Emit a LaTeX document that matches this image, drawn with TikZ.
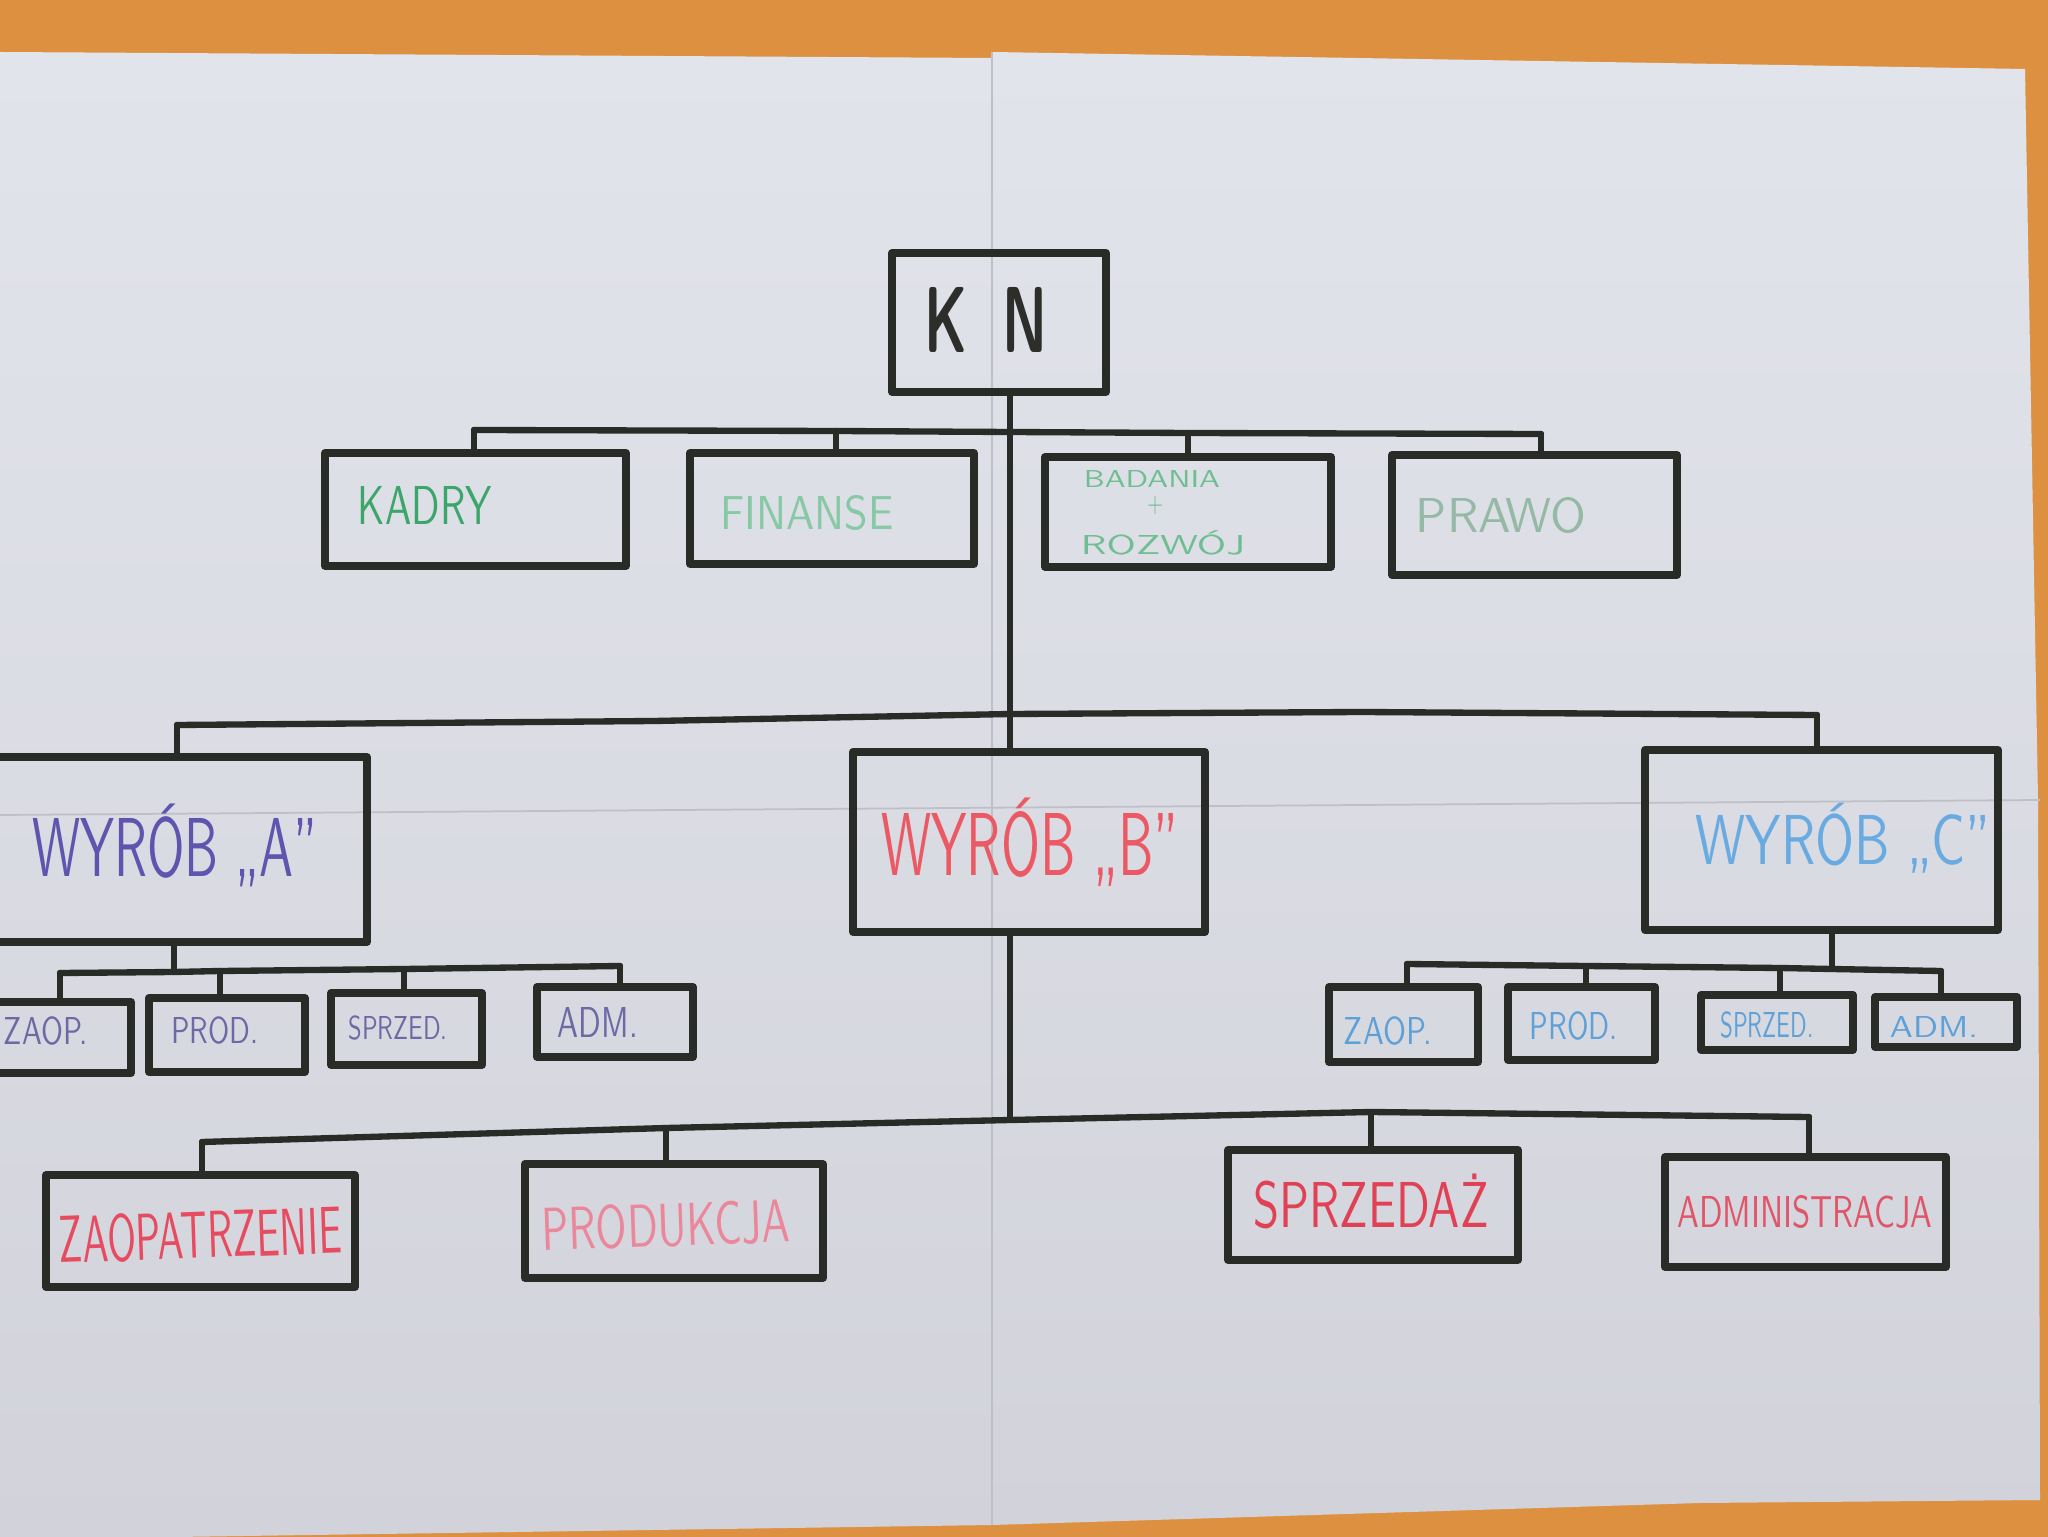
\documentclass[tikz,border=0pt]{standalone}
\usepackage{fontspec}
\usepackage{graphicx}
\usetikzlibrary{fit}
\definecolor{wood}{RGB}{221,145,64}
\definecolor{paperT}{RGB}{226,228,236}
\definecolor{paperB}{RGB}{210,211,218}
\definecolor{ink}{RGB}{40,43,38}
\definecolor{crease}{RGB}{190,192,200}
\definecolor{knC}{RGB}{45,45,42}
\definecolor{kadryC}{RGB}{60,165,105}
\definecolor{finC}{RGB}{135,200,165}
\definecolor{badC}{RGB}{110,190,145}
\definecolor{prawoC}{RGB}{150,185,165}
\definecolor{aC}{RGB}{95,85,175}
\definecolor{bC}{RGB}{235,90,100}
\definecolor{cC}{RGB}{105,170,225}
\definecolor{asC}{RGB}{110,105,165}
\definecolor{csC}{RGB}{95,160,215}
\definecolor{zaoC}{RGB}{230,75,95}
\definecolor{prodC}{RGB}{235,135,155}
\definecolor{sprzC}{RGB}{225,65,85}
\definecolor{admC}{RGB}{225,85,105}
\newcommand\hw[3]{\resizebox{#1}{#2}{\vphantom{X}\smash{#3}}}
\begin{document}
\begin{tikzpicture}[
  x=0.01cm, y=-0.01cm,
  boxst/.style={draw=ink, line width=2.2pt, line join=round, inner sep=0pt, outer sep=0pt},
  conn/.style={draw=ink, line width=1.8pt, line cap=round, line join=round},
  lbl/.style={inner sep=0pt, outer sep=0pt, font=\sffamily},
  creaseline/.style={draw=crease, line width=0.5pt}
]
\useasboundingbox (0,0) rectangle (2048,1537);
\clip (0,0) rectangle (2048,1537);
% background: table and two paper sheets
\fill[wood] (0,0) rectangle (2048,1537);
\shade[top color=paperT, bottom color=paperB] (0,52) -- (992,58) -- (992,1525) -- (175,1537) -- (0,1537) -- cycle;
\shade[top color=paperT, bottom color=paperB] (992,52) -- (2025,69) -- (2038,800) -- (2040,1500) -- (1700,1503) -- (992,1525) -- cycle;
\draw[creaseline] (992,52) -- (992,1525);
\draw[creaseline] (0,815) -- (2040,800);

% boxes
\node[boxst, fit={(892,253) (1106,392)}] (kn) {};
\node[boxst, fit={(325,453) (626,566)}] (kadry) {};
\node[boxst, fit={(690,453) (974,564)}] (finanse) {};
\node[boxst, fit={(1045,457) (1331,567)}] (badania) {};
\node[boxst, fit={(1392,455) (1677,575)}] (prawo) {};
\node[boxst, fit={(-20,757) (367,942)}] (wa) {};
\node[boxst, fit={(853,752) (1205,932)}] (wb) {};
\node[boxst, fit={(1645,750) (1998,930)}] (wc) {};
\node[boxst, fit={(-20,1002) (131,1073)}] (azaop) {};
\node[boxst, fit={(149,998) (305,1072)}] (aprod) {};
\node[boxst, fit={(331,993) (482,1065)}] (asprz) {};
\node[boxst, fit={(537,987) (693,1057)}] (aadm) {};
\node[boxst, fit={(1329,987) (1478,1062)}] (czaop) {};
\node[boxst, fit={(1508,987) (1655,1060)}] (cprod) {};
\node[boxst, fit={(1701,995) (1853,1050)}] (csprz) {};
\node[boxst, fit={(1875,997) (2017,1047)}] (cadm) {};
\node[boxst, fit={(46,1175) (355,1287)}] (zaop) {};
\node[boxst, fit={(525,1164) (823,1278)}] (prod) {};
\node[boxst, fit={(1228,1150) (1518,1260)}] (sprz) {};
\node[boxst, fit={(1665,1157) (1946,1267)}] (adm) {};

% labels
\node[lbl, font=\sffamily\bfseries, text=knC] (knt) at (986,320) {\hw{1.22cm}{0.65cm}{K\hspace{0.6em}N}};
\node[lbl, text=kadryC] (kadryt) at (425,505) {\hw{1.34cm}{0.38cm}{KADRY}};
\node[lbl, text=finC] (finanset) at (807,513) {\hw{1.73cm}{0.33cm}{FINANSE}};
\node[lbl, text=badC] (badaniat) at (1152,479) {\hw{1.36cm}{0.17cm}{BADANIA}};
\node[lbl, text=badC] (plust) at (1155,503) {\hw{0.16cm}{0.19cm}{+}};
\node[lbl, text=badC] (rozwojt) at (1163,545) {\hw{1.64cm}{0.19cm}{ROZWÓJ}};
\node[lbl, text=prawoC] (prawot) at (1501,515) {\hw{1.70cm}{0.34cm}{PRAWO}};
\node[lbl, text=aC] (wat) at (175,847) {\hw{2.85cm}{0.58cm}{WYRÓB „A”}};
\node[lbl, text=bC] (wbt) at (1030,844) {\hw{2.97cm}{0.62cm}{WYRÓB „B”}};
\node[lbl, text=cC] (wct) at (1843,840) {\hw{2.94cm}{0.49cm}{WYRÓB „C”}};
\node[lbl, text=asC] (azaopt) at (46,1031) {\hw{0.84cm}{0.27cm}{ZAOP.}};
\node[lbl, text=asC] (aprodt) at (215,1030) {\hw{0.87cm}{0.26cm}{PROD.}};
\node[lbl, text=asC] (asprzt) at (398,1028) {\hw{0.99cm}{0.23cm}{SPRZED.}};
\node[lbl, text=asC] (aadmt) at (598,1022) {\hw{0.80cm}{0.30cm}{ADM.}};
\node[lbl, text=csC] (czaopt) at (1388,1031) {\hw{0.88cm}{0.27cm}{ZAOP.}};
\node[lbl, text=csC] (cprodt) at (1574,1026) {\hw{0.88cm}{0.27cm}{PROD.}};
\node[lbl, text=csC] (csprzt) at (1767,1025) {\hw{0.93cm}{0.25cm}{SPRZED.}};
\node[lbl, text=csC] (cadmt) at (1934,1027) {\hw{0.88cm}{0.21cm}{ADM.}};
\node[lbl, text=zaoC, rotate=2] (zaopt) at (200,1235) {\hw{2.83cm}{0.46cm}{ZAOPATRZENIE}};
\node[lbl, text=prodC, rotate=2] (prodt) at (666,1225) {\hw{2.48cm}{0.42cm}{PRODUKCJA}};
\node[lbl, text=sprzC] (sprzt) at (1371,1205) {\hw{2.35cm}{0.45cm}{SPRZEDAŻ}};
\node[lbl, text=admC] (admt) at (1805,1212) {\hw{2.55cm}{0.31cm}{ADMINISTRACJA}};

% junction points
\coordinate (kj) at (474,430);
\coordinate (fj) at (836,431);
\coordinate (tj) at (1010,432);
\coordinate (bj) at (1188,433);
\coordinate (pj) at (1541,434);
\coordinate (aj) at (177,725);
\coordinate (m2) at (654,721);
\coordinate (mj) at (1010,714);
\coordinate (m4) at (1362,712);
\coordinate (cj) at (1817,715);
\coordinate (a1) at (60,973);
\coordinate (as) at (174,972);
\coordinate (a2) at (220,971);
\coordinate (a3) at (404,969);
\coordinate (a4) at (620,966);
\coordinate (c1) at (1407,964);
\coordinate (c2) at (1586,966);
\coordinate (c3) at (1780,968);
\coordinate (cs) at (1832,969);
\coordinate (c4) at (1941,971);
\coordinate (z1) at (202,1142);
\coordinate (z2) at (666,1128);
\coordinate (bs) at (1010,1120);
\coordinate (z3) at (1371,1112);
\coordinate (z4) at (1809,1117);

% connectors: level 1
\draw[conn] (kn.south -| tj) -- (tj) -- (mj) -- (mj |- wb.north);
\draw[conn] (kj) -- (fj) -- (tj) -- (bj) -- (pj);
\draw[conn] (kj) -- (kj |- kadry.north);
\draw[conn] (fj) -- (fj |- finanse.north);
\draw[conn] (bj) -- (bj |- badania.north);
\draw[conn] (pj) -- (pj |- prawo.north);
% level 2
\draw[conn] (aj) -- (m2) -- (mj) -- (m4) -- (cj);
\draw[conn] (aj) -- (aj |- wa.north);
\draw[conn] (cj) -- (cj |- wc.north);
% product A
\draw[conn] (as |- wa.south) -- (as);
\draw[conn] (a1) -- (as) -- (a2) -- (a3) -- (a4);
\draw[conn] (a1) -- (a1 |- azaop.north);
\draw[conn] (a2) -- (a2 |- aprod.north);
\draw[conn] (a3) -- (a3 |- asprz.north);
\draw[conn] (a4) -- (a4 |- aadm.north);
% product C
\draw[conn] (cs |- wc.south) -- (cs);
\draw[conn] (c1) -- (c2) -- (c3) -- (cs) -- (c4);
\draw[conn] (c1) -- (c1 |- czaop.north);
\draw[conn] (c2) -- (c2 |- cprod.north);
\draw[conn] (c3) -- (c3 |- csprz.north);
\draw[conn] (c4) -- (c4 |- cadm.north);
% product B
\draw[conn] (bs |- wb.south) -- (bs);
\draw[conn] (z1) -- (z2) -- (bs) -- (z3) -- (z4);
\draw[conn] (z1) -- (z1 |- zaop.north);
\draw[conn] (z2) -- (z2 |- prod.north);
\draw[conn] (z3) -- (z3 |- sprz.north);
\draw[conn] (z4) -- (z4 |- adm.north);
\end{tikzpicture}
\end{document}
